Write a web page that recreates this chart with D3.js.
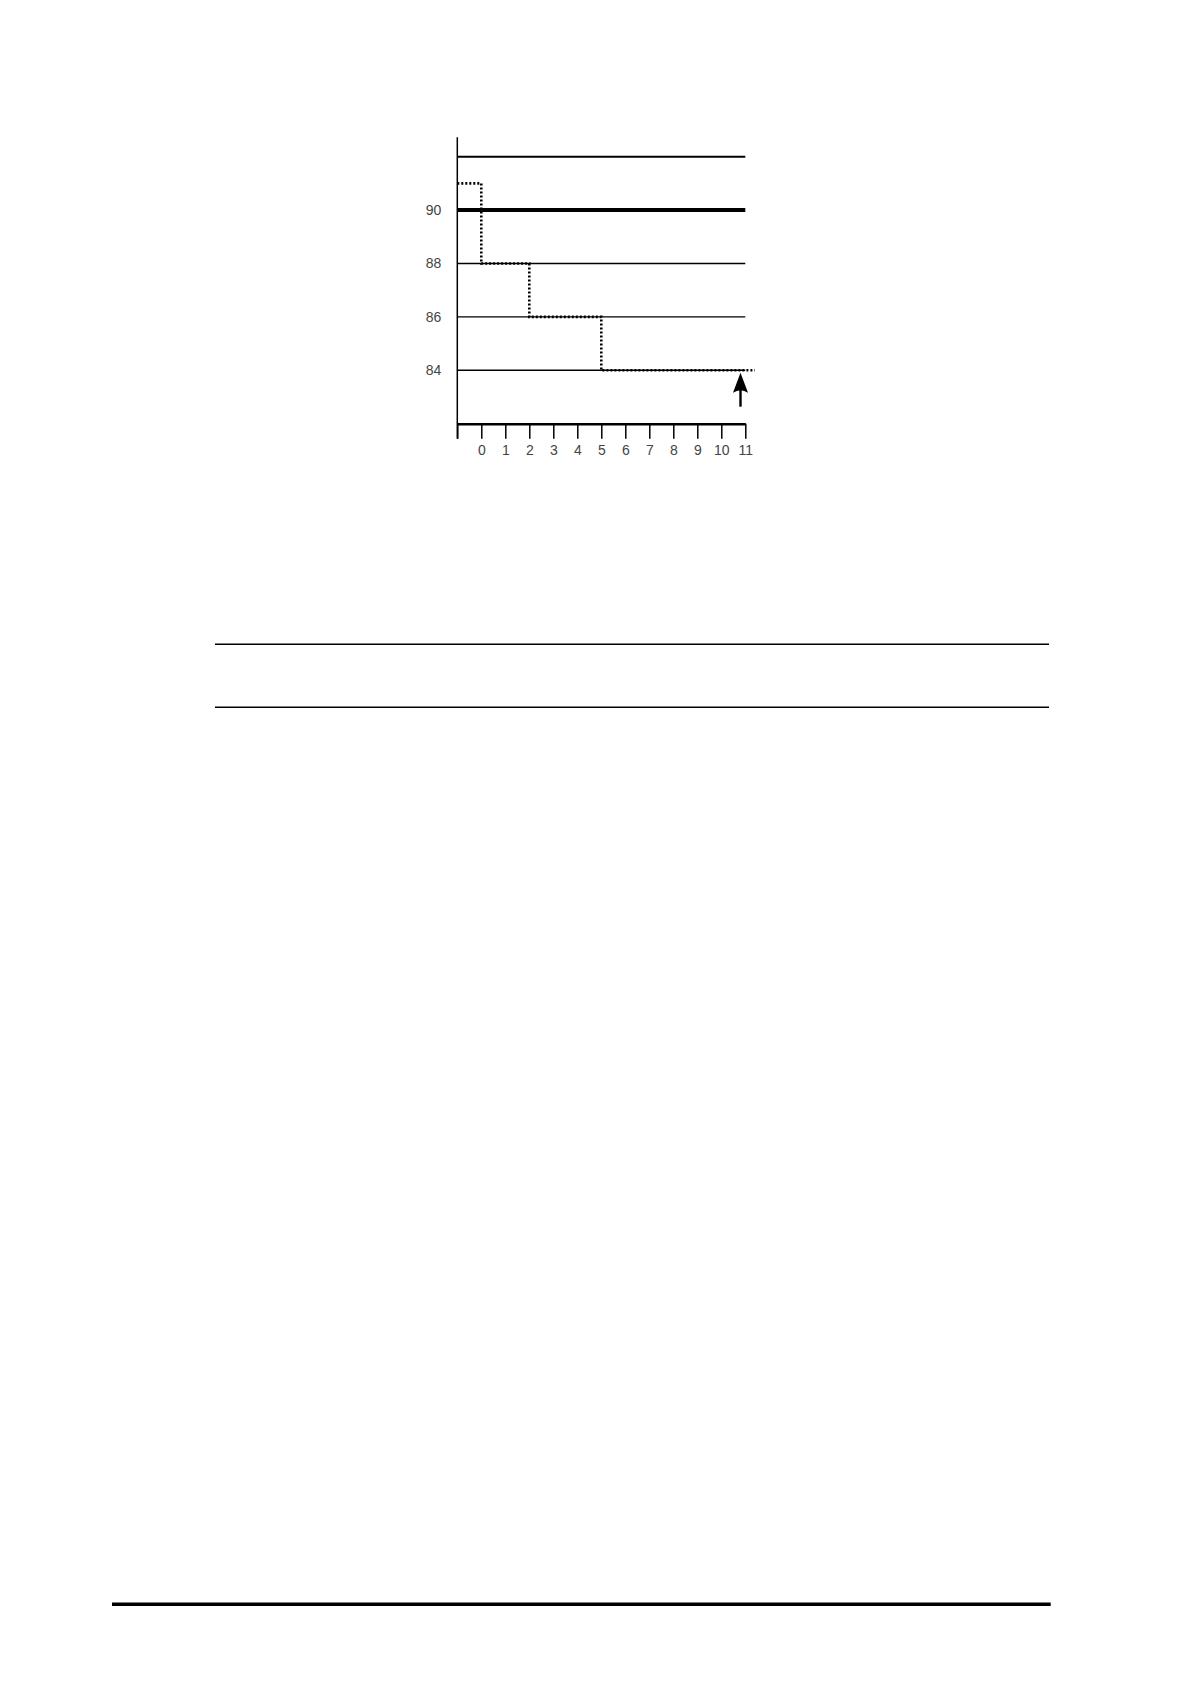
<!DOCTYPE html>
<html>
<head>
<meta charset="utf-8">
<script src="https://cdn.jsdelivr.net/npm/d3@7"></script>
<style>
  body { margin: 0; background: #fff; }
  svg { display: block; }
  .tick text { font-family: 'Liberation Sans', Arial, sans-serif; font-size: 14px; fill: #444; }
</style>
</head>
<body>
<svg id="canvas" width="1190" height="1684"></svg>
<script>
// chart values
let xTicks = [-1, 0, 1, 2, 3, 4, 5, 6, 7, 8, 9, 10, 11]
let yTicks = [84, 86, 88, 90]
let gridLines = [84, 86, 88, 92]
let threshold = 90
let stepTimes = [-1, 0, 2, 5, 11.4]
let stepValues = [91, 88, 86, 84, 84]
let arrowTime = 10.8
let arrowFrom = 82.6
let arrowTo = 84

let canvas = d3.select('#canvas')

let x = d3.scaleLinear().domain([-1, 11]).range([457.3, 745.3])
let y = d3.scaleLinear().domain([82, 92]).range([423.7, 156.7])

// thin grid lines
canvas.selectAll('line.grid')
    .data(gridLines)
    .enter()
    .append('line')
    .attr('class', 'grid')
    .attr('x1', x(-1))
    .attr('x2', x(11))
    .attr('y1', (d) => y(d))
    .attr('y2', (d) => y(d))
    .attr('stroke', '#000')
    .attr('stroke-width', (d) => d === 92 ? 2 : 1.4)

// threshold line
canvas.append('line')
    .attr('x1', x(-1))
    .attr('x2', x(11))
    .attr('y1', y(threshold))
    .attr('y2', y(threshold))
    .attr('stroke', '#000')
    .attr('stroke-width', 4)

// x axis
let xAxis = d3.axisBottom(x)
    .tickValues(xTicks)
    .tickSize(15)
    .tickSizeOuter(0)
    .tickPadding(6)
    .tickFormat((d) => d < 0 ? '' : d)

let gx = canvas.append('g')
    .attr('transform', 'translate(0,' + y(82) + ')')
    .call(xAxis)
gx.select('.domain').attr('stroke', '#000').attr('stroke-width', 2.6)
gx.selectAll('.tick line').attr('stroke', '#000').attr('stroke-width', 1.5)

// y axis
let yAxis = d3.axisLeft(y)
    .tickValues(yTicks)
    .tickSize(0)
    .tickPadding(16)

let gy = canvas.append('g')
    .attr('transform', 'translate(' + x(-1) + ',0)')
    .call(yAxis)
gy.select('.domain').remove()

canvas.append('line')
    .attr('x1', x(-1))
    .attr('x2', x(-1))
    .attr('y1', 137.3)
    .attr('y2', y(82) + 15)
    .attr('stroke', '#000')
    .attr('stroke-width', 1.5)

// dotted step line
let stepData = stepTimes.map((t, i) => [t, stepValues[i]])
let line = d3.line()
    .x((d) => x(d[0]))
    .y((d) => y(d[1]))
    .curve(d3.curveStepAfter)

canvas.append('path')
    .attr('d', line(stepData))
    .attr('fill', 'none')
    .attr('stroke', '#000')
    .attr('stroke-width', 2.6)
    .attr('stroke-dasharray', '2,2')

// arrow
let ax = x(arrowTime)
let tipY = y(arrowTo) + 2.5
let baseY = tipY + 20
canvas.append('line')
    .attr('x1', ax)
    .attr('x2', ax)
    .attr('y1', baseY - 4)
    .attr('y2', y(arrowFrom) - 1)
    .attr('stroke', '#000')
    .attr('stroke-width', 2.4)
canvas.append('path')
    .attr('d', 'M' + ax + ',' + tipY +
        ' L' + (ax + 7.5) + ',' + baseY +
        ' Q' + ax + ',' + (baseY - 5) + ' ' + (ax - 7.5) + ',' + baseY + ' Z')
    .attr('fill', '#000')

// page rules
let rules = [
    { x1: 215, x2: 1049, y: 644.3, w: 1.4 },
    { x1: 215, x2: 1049, y: 707.3, w: 1.4 },
    { x1: 112, x2: 1050.7, y: 1604.3, w: 3.4 }
]
canvas.selectAll('line.rule')
    .data(rules)
    .enter()
    .append('line')
    .attr('class', 'rule')
    .attr('x1', (d) => d.x1)
    .attr('x2', (d) => d.x2)
    .attr('y1', (d) => d.y)
    .attr('y2', (d) => d.y)
    .attr('stroke', '#000')
    .attr('stroke-width', (d) => d.w)
</script>
</body>
</html>
